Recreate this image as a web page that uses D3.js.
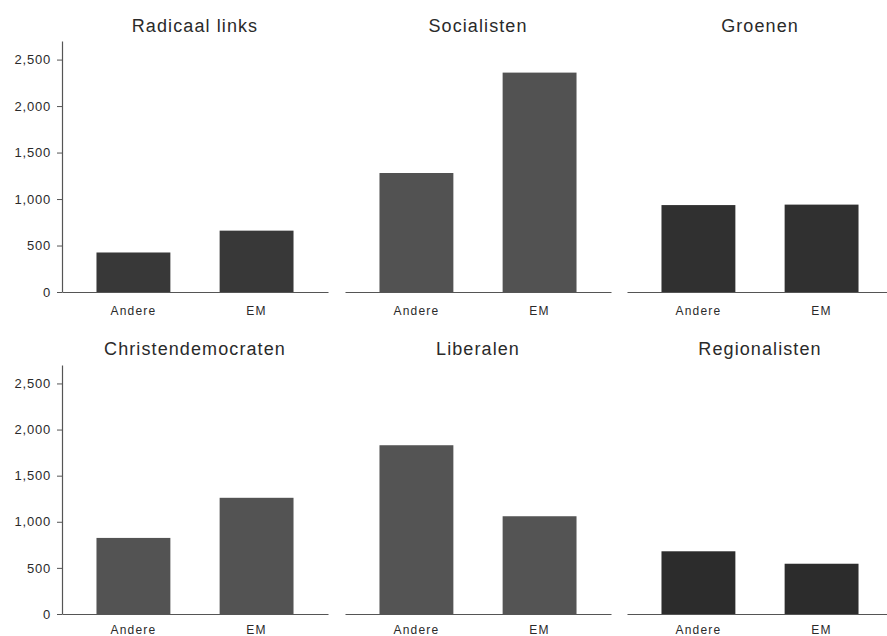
<!DOCTYPE html>
<html>
<head>
<meta charset="utf-8">
<script src="https://cdn.jsdelivr.net/npm/d3@7"></script>
<style>
  html, body { margin: 0; padding: 0; background: #fff; }
  svg { display: block; }
  text { font-family: "Liberation Sans", Arial, sans-serif; fill: #2a2a2a; }
</style>
</head>
<body>
<svg id="chart" width="887" height="636"></svg>
<script>
// ---- data ----
const categories = ["Andere", "EM"];
const panelTitles = ["Radicaal links", "Socialisten", "Groenen",
                     "Christendemocraten", "Liberalen", "Regionalisten"];
const andereValues = [425, 1280, 935, 825, 1830, 680];
const emValues = [660, 2360, 940, 1260, 1060, 545];
const yTicks = [0, 500, 1000, 1500, 2000, 2500];

// ---- styles ----
const barColors = ["#383838", "#525252", "#303030", "#535353", "#545454", "#2c2c2c"];

const svg = d3.select("#chart");
const panelW = 266;
const colX = [62, 345, 627];
const rows = [
  { top: 41, bottom: 292, titleY: 32, labelY: 315 },
  { top: 365, bottom: 614, titleY: 355, labelY: 634 }
];
const fmt = d3.format(",");

panelTitles.forEach((title, i) => {
  const col = i % 3, row = Math.floor(i / 3);
  const r = rows[row];
  const x0 = colX[col];
  const g = svg.append("g");

  const x = d3.scaleBand().domain(categories)
    .range([x0, x0 + panelW]).paddingInner(0.4).paddingOuter(0.28);
  const y = d3.scaleLinear().domain([0, 2700]).range([r.bottom, r.top]);

  const vals = [andereValues[i], emValues[i]];
  g.selectAll("rect").data(categories).join("rect")
    .attr("x", d => x(d))
    .attr("width", x.bandwidth())
    .attr("y", (d, k) => y(vals[k]))
    .attr("height", (d, k) => y(0) - y(vals[k]))
    .attr("fill", barColors[i]);

  // baseline (x axis)
  const xAxis = d3.axisBottom(x).tickSize(0).tickPadding(0);
  const xg = g.append("g").attr("transform", `translate(0,${y(0)})`).call(xAxis);
  xg.select(".domain").attr("stroke", "#555").attr("stroke-width", 1.2);
  xg.selectAll(".tick text")
    .attr("y", r.labelY - y(0)).attr("dy", 0)
    .style("font-size", "12px").style("letter-spacing", "1.2px")
    .attr("fill", "#2a2a2a");

  // y axis for first column
  if (col === 0) {
    const yAxis = d3.axisLeft(y).tickValues(yTicks).tickFormat(fmt)
      .tickSize(5).tickPadding(6).tickSizeOuter(0);
    const yg = g.append("g").attr("transform", `translate(${x0},0)`).call(yAxis);
    yg.select(".domain").attr("stroke", "#555").attr("stroke-width", 1.2);
    yg.selectAll(".tick line").attr("stroke", "#555");
    yg.selectAll(".tick text")
      .style("font-size", "13px").style("letter-spacing", "0.8px")
      .attr("fill", "#2a2a2a");
  }

  g.append("text")
    .attr("x", x0 + panelW / 2)
    .attr("y", r.titleY)
    .attr("text-anchor", "middle")
    .style("font-size", "18px").style("letter-spacing", "1.1px")
    .text(title);
});
</script>
</body>
</html>
